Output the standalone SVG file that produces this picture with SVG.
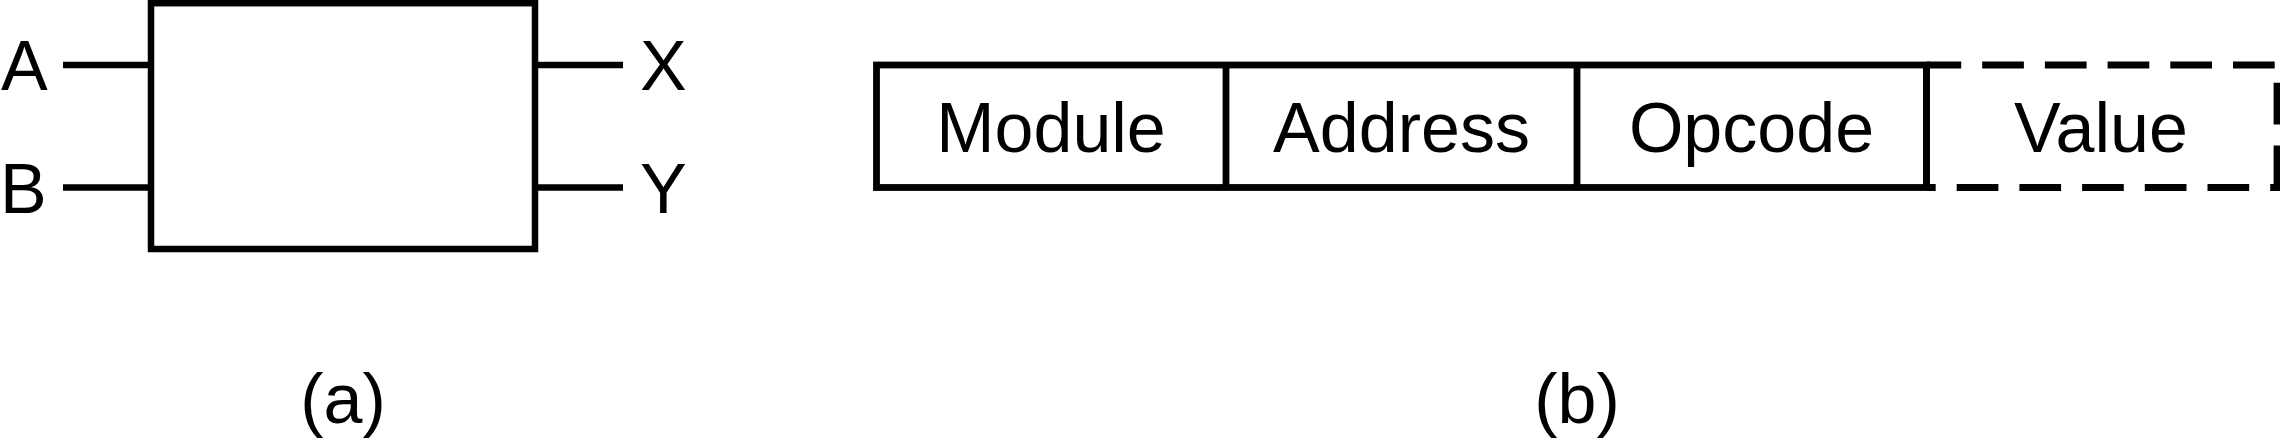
<svg xmlns="http://www.w3.org/2000/svg" width="2280" height="440" viewBox="0 0 2280 440">
<style>
.ln{stroke:#000;stroke-width:6.5;fill:none}
.box{stroke:#000;stroke-width:6.8;fill:#fff}
.dv{stroke:#000;stroke-width:6.8;fill:none}
.dash{stroke:#000;stroke-width:6.8;fill:none;stroke-dasharray:41.7 21}
text{font-family:"Liberation Sans",Arial,Helvetica,sans-serif;font-size:70px;fill:#000}
.c{text-anchor:middle}
</style>
<rect width="2280" height="440" fill="#fff"/>
<g id="connectors">
<line class="ln" x1="63" y1="65" x2="151" y2="65"/>
<line class="ln" x1="63" y1="187.5" x2="151" y2="187.5"/>
<line class="ln" x1="535" y1="65" x2="623" y2="65"/>
<line class="ln" x1="535" y1="187.5" x2="623" y2="187.5"/>
</g>
<g id="block">
<rect class="ln" x="151" y="3.2" width="384" height="245.8" fill="#fff"/>
</g>
<g id="ports">
<text x="1" y="89.5">A</text>
<text x="0" y="213">B</text>
<text x="640" y="89.5">X</text>
<text x="640" y="213">Y</text>
</g>
<g id="label-a"><text class="c" x="343" y="423">(a)</text></g>
<g id="record">
<rect class="box" x="876.5" y="65" width="1050" height="122.5"/>
<line class="dv" x1="1226" y1="65" x2="1226" y2="187.5"/>
<line class="dv" x1="1577" y1="65" x2="1577" y2="187.5"/>
<line class="dv" x1="1926.5" y1="65" x2="1926.5" y2="187.5"/>
</g>
<g id="value-field">
<line class="dash" x1="1926.5" y1="65" x2="2277" y2="65" stroke-dashoffset="7"/>
<line class="dash" x1="2277" y1="65" x2="2277" y2="190.9" stroke-dashoffset="45"/>
<line class="dash" x1="1926.5" y1="187.5" x2="2290" y2="187.5" stroke-dashoffset="32.5"/>
</g>
<g id="field-texts">
<text class="c" x="1051" y="152">Module</text>
<text class="c" x="1401.5" y="152">Address</text>
<text class="c" x="1751.5" y="152">Opcode</text>
<text class="c" x="2101" y="152">Value</text>
</g>
<g id="label-b"><text class="c" x="1577" y="423">(b)</text></g>
</svg>
